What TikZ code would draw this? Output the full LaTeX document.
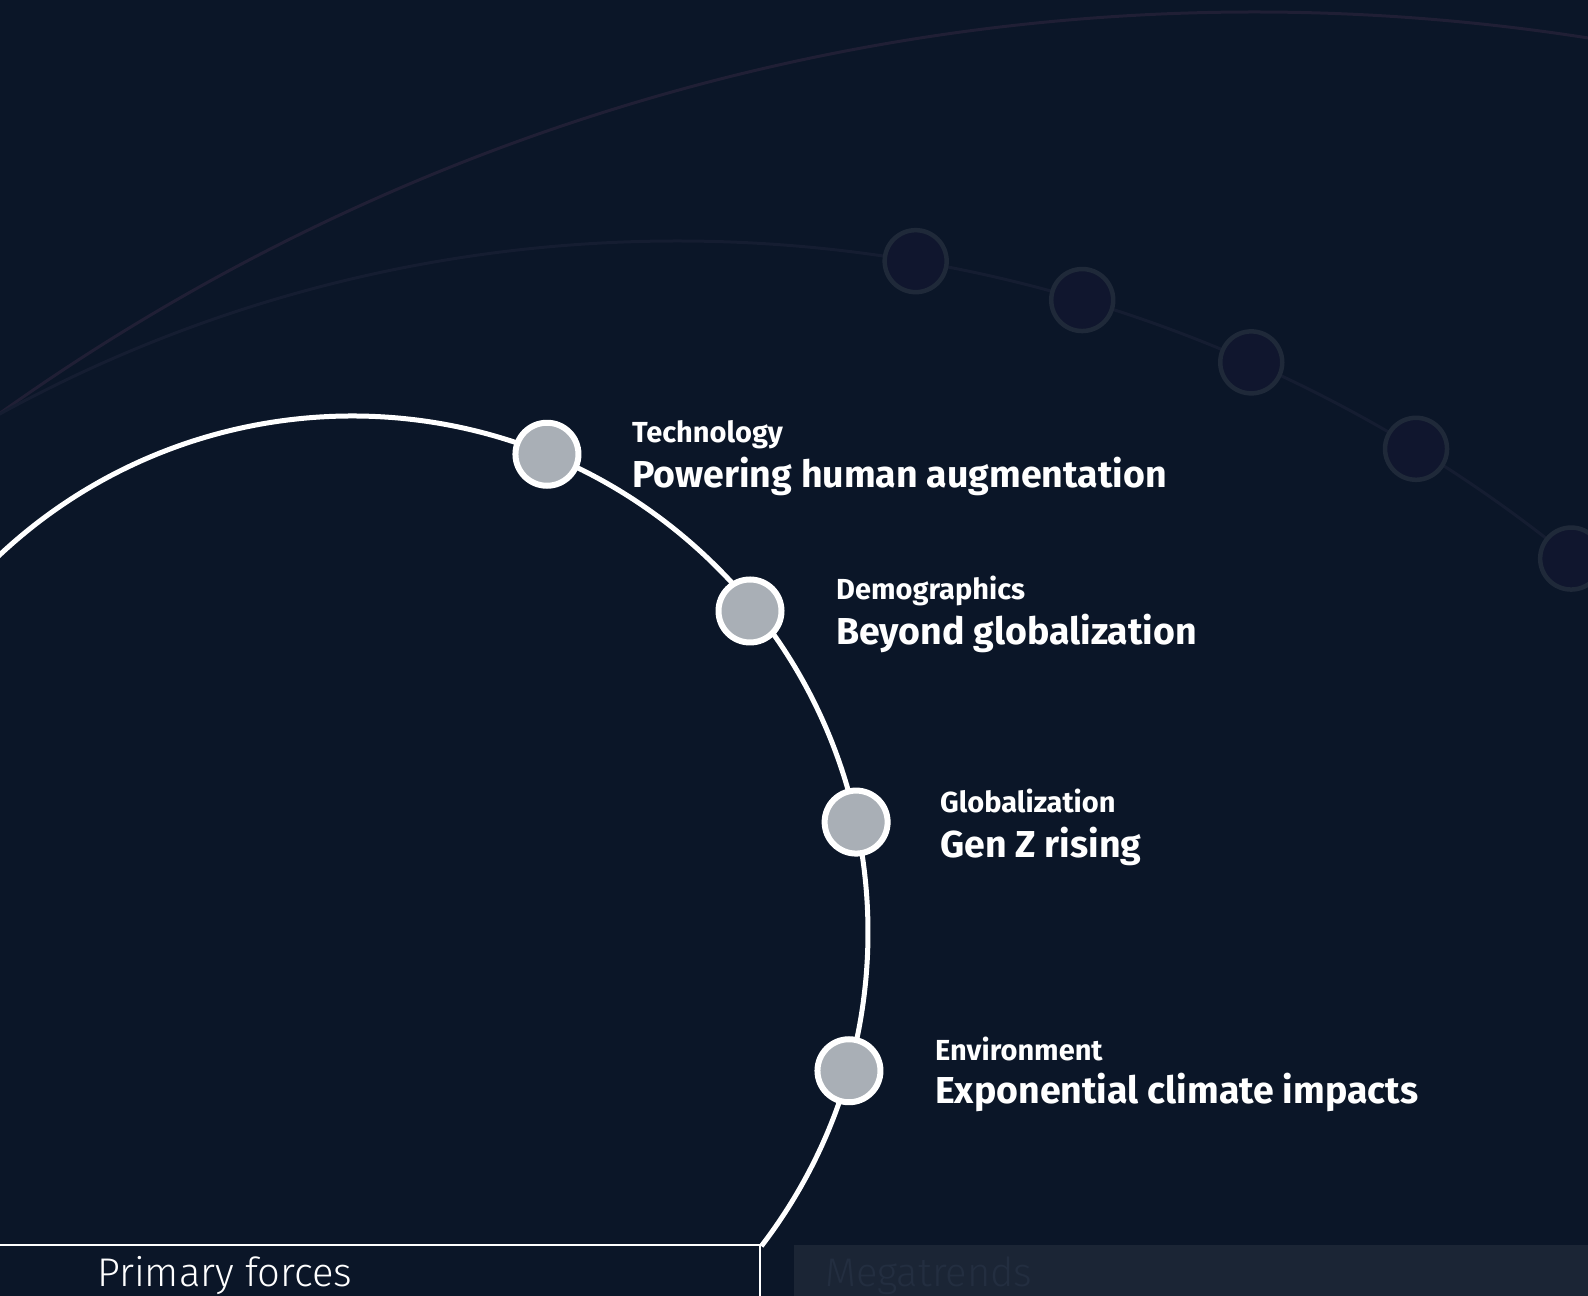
\documentclass[tikz,border=0pt]{standalone}
\usepackage{fontspec}
\setmainfont{Fira Sans}
\newfontfamily\thinfont{Fira Sans Light}
\usepackage{xcolor}
\usepackage{tikz}
\usetikzlibrary{calc}

\definecolor{bgnavy}{HTML}{0B1628}
\definecolor{forcegray}{HTML}{A9AFB6}
\definecolor{trendfill}{HTML}{10162E}
\definecolor{trendrim}{HTML}{1F2939}
\definecolor{innerarc}{HTML}{151D31}
\definecolor{outerarc}{HTML}{201F35}
\definecolor{tabfill}{HTML}{1B2535}
\definecolor{tabtext}{HTML}{232E40}

\begin{document}
\begin{tikzpicture}[x=1pt, y=1pt,
    force/.style={circle, draw=white, line width=6pt, fill=forcegray, minimum size=63pt, inner sep=0pt},
    trend/.style={circle, draw=trendrim, line width=4.5pt, fill=trendfill, minimum size=62pt, inner sep=0pt},
    forcecat/.style={anchor=base west, inner sep=0pt, text=white, font=\bfseries\fontsize{29}{29}\selectfont},
    forcetitle/.style={anchor=base west, inner sep=0pt, text=white, font=\bfseries\fontsize{37.5}{37.5}\selectfont},
    tablabel/.style={anchor=base west, inner sep=0pt, font=\thinfont\fontsize{40}{40}\selectfont}]

    \useasboundingbox (0,0) rectangle (1588,1296);
    \fill[bgnavy] (0,0) rectangle (1588,1296);
    \clip (0,0) rectangle (1588,1296);

    % faint megatrend orbits
    \draw[outerarc, line width=3pt] (1254,-876) ++(130:2160) arc[start angle=130, end angle=75, radius=2160];
    \draw[innerarc, line width=3pt] (678,-360) ++(125:1415) arc[start angle=125, end angle=40, radius=1415];
    \foreach \a [count=\i] in {80.33, 73.4, 66.1, 58.56, 50.86}
        \node[trend] (trend\i) at ($(678,-360)+(\a:1415)$) {};

    % primary forces orbit
    \draw[white, line width=5pt] (352,364) ++(140:516) arc[start angle=140, end angle=-37.5, radius=516];

    \node[force] (tech) at ($(352,364)+(67.8:516)$) {};
    \node[force] (demo) at (750,685) {};
    \node[force] (glob) at ($(352,364)+(12.3:516)$) {};
    \node[force] (envi) at ($(352,364)+(-15.6:516)$) {};

    \node[forcecat] (techcat) at (632,853) {Technology};
    \node[forcetitle] (techtitle) at (632,808) {Powering human augmentation};
    \node[forcecat] (democat) at (836,696) {Demographics};
    \node[forcetitle] (demotitle) at (836,651) {Beyond globalization};
    \node[forcecat] (globcat) at (940,483) {Globalization};
    \node[forcetitle] (globtitle) at (940,438) {Gen Z rising};
    \node[forcecat] (envicat) at (935,235) {Environment};
    \node[forcetitle] (envititle) at (935,192) {Exponential climate impacts};

    % tabs
    \draw[white, line width=1.5pt] (-5,-5) rectangle (760,51);
    \fill[tabfill] (794,-5) rectangle (1600,51);
    \node[tablabel, text=white] (primary) at (97,9) {Primary forces};
    \node[tablabel, text=tabtext] (mega) at (825,9) {Megatrends};
\end{tikzpicture}
\end{document}
